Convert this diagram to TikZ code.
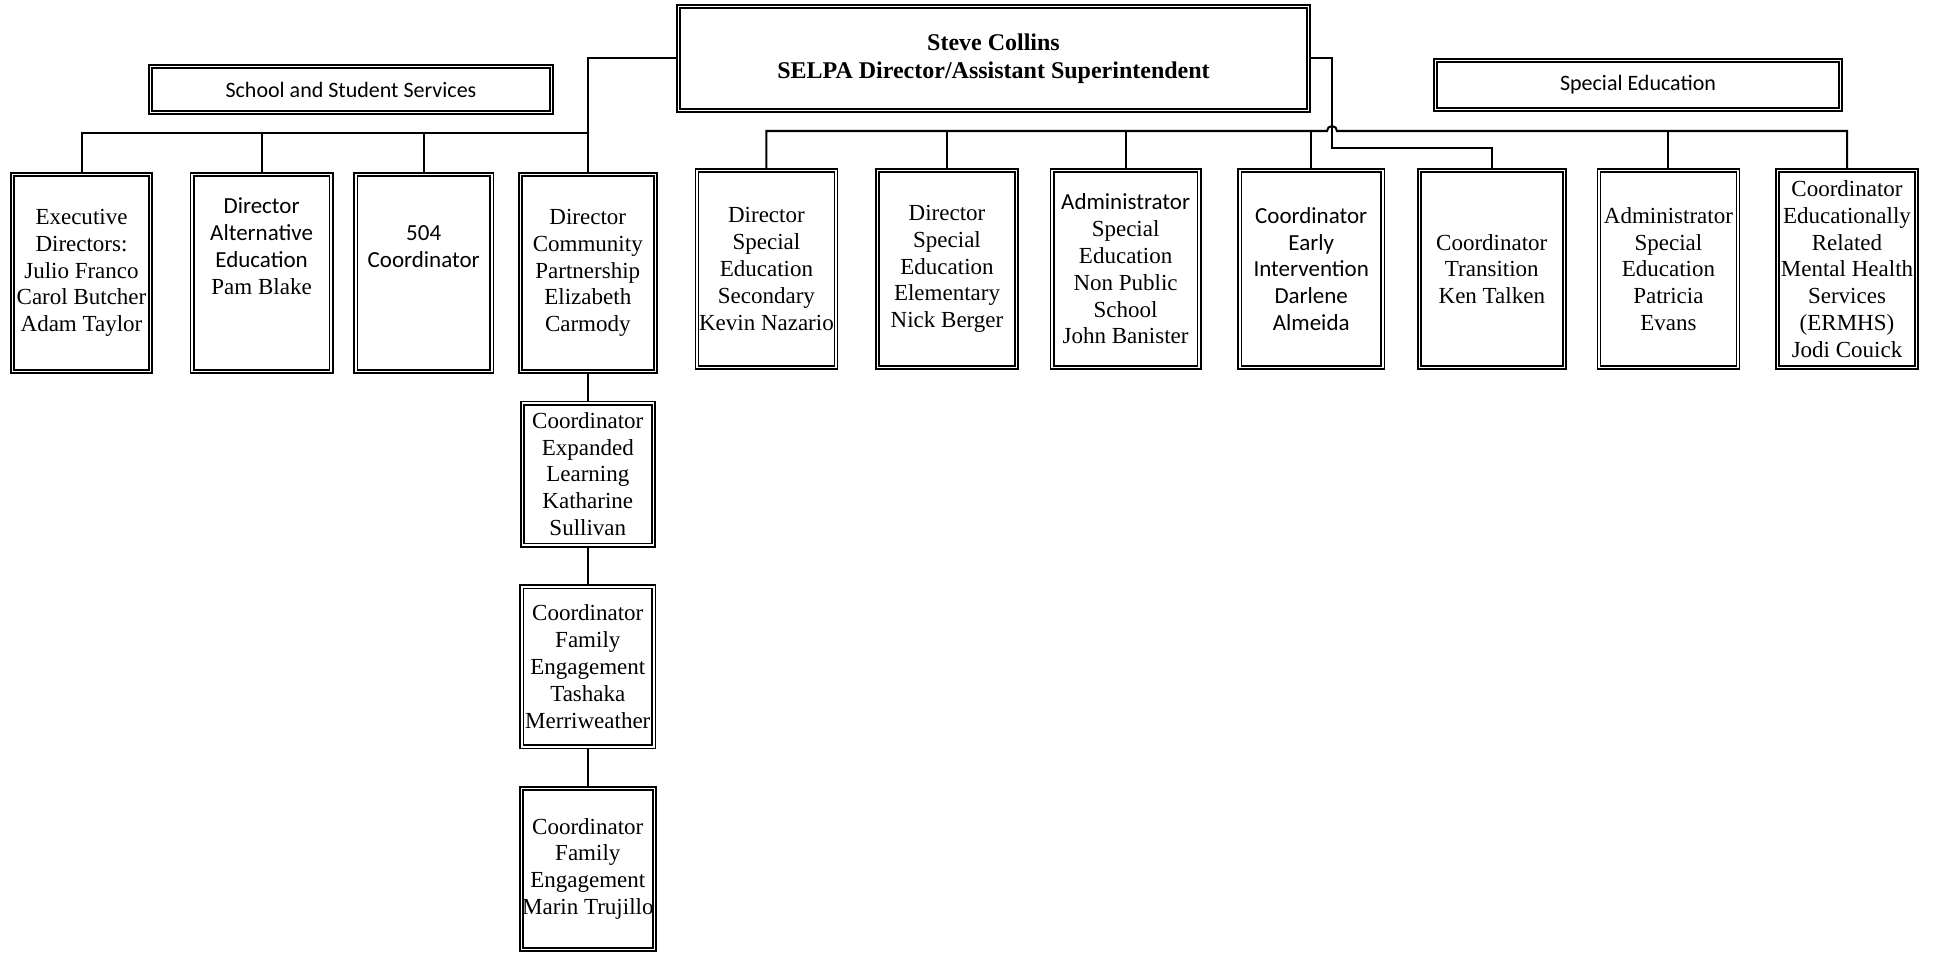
\documentclass[tikz,border=0pt]{standalone}
\usepackage{fontspec}
\setmainfont{Liberation Serif}
\newfontfamily\cb{Carlito}
\usetikzlibrary{positioning}

\begin{document}
\begin{tikzpicture}[x=1pt, y=-1pt,
  frame/.style = {draw, line width=1.6pt, double=white, double distance=1.6pt, inner sep=0pt, align=center},
  unit/.style = {frame, minimum height=197pt, font=\fontsize{23}{26.8}\selectfont},
  head/.style = {frame, font=\cb\fontsize{22}{26}\selectfont},
  wire/.style = {line width=2pt}]
\useasboundingbox[fill=white] (0,0) rectangle (1934,955);

% top
\node[frame, minimum width=630pt, minimum height=104pt, font=\bfseries\fontsize{24}{28}\selectfont] (steve) at (993.5,58.5) {Steve Collins\\SELPA Director/Assistant Superintendent};
\node[head, minimum width=401pt, minimum height=46pt] (sss) at (351,89.5) {School and Student Services};
\node[head, minimum width=405pt, minimum height=49pt] (sped) at (1638,85) {Special Education};

% school and student services
\node[unit, minimum width=138pt] (exec) at (81.5,273) {Executive\\Directors:\\Julio Franco\\Carol Butcher\\Adam Taylor};
\node[unit, minimum width=139pt] (alt) [right=40pt of exec] {{\cb Director}\\{\cb Alternative}\\{\cb Education}\\Pam Blake\\~\\~};
\node[unit, minimum width=136pt] (c504) [right=23pt of alt] {{\cb 504}\\{\cb Coordinator}\\~\\~};
\node[unit, minimum width=135pt] (comm) [right=27pt of c504] {Director\\Community\\Partnership\\Elizabeth\\Carmody};
\node[unit, minimum width=131pt, minimum height=142pt] (exp) [below=30pt of comm] {Coordinator\\Expanded\\Learning\\Katharine\\Sullivan};
\node[unit, minimum width=132pt, minimum height=160pt] (tash) [below=40pt of exp] {Coordinator\\Family\\Engagement\\Tashaka\\Merriweather};
\node[unit, minimum width=133pt, minimum height=161pt] (marin) [below=40pt of tash] {Coordinator\\Family\\Engagement\\Marin Trujillo};

% special education
\node[unit, minimum width=139pt] (sec) [right=40pt of comm, yshift=4pt] {Director\\Special\\Education\\Secondary\\Kevin Nazario};
\node[unit, minimum width=139pt] (elem) [right=40pt of sec] {Director\\Special\\Education\\Elementary\\Nick Berger};
\node[unit, minimum width=147pt] (nps) [right=34pt of elem] {{\cb Administrator}\\Special\\Education\\Non Public\\School\\John Banister};
\node[unit, minimum width=143pt] (early) [right=39pt of nps] {{\cb Coordinator}\\{\cb Early}\\{\cb Intervention}\\{\cb Darlene}\\{\cb Almeida}};
\node[unit, minimum width=145pt] (trans) [right=35pt of early] {Coordinator\\Transition\\Ken Talken};
\node[unit, minimum width=139pt] (pat) [right=33pt of trans] {Administrator\\Special\\Education\\Patricia\\Evans};
\node[unit, minimum width=139pt] (ermhs) [right=38pt of pat] {Coordinator\\Educationally\\Related\\Mental Health\\Services\\(ERMHS)\\Jodi Couick};

\coordinate (lbus) at (589,133);
\coordinate (hop) at (1327,131);
\coordinate (jog) at (1332,148);

\draw[wire] (steve.west) -| (comm.north);
\draw[wire] (exec.north) |- (lbus);
\draw[wire] (alt.north) -- (alt.north |- lbus);
\draw[wire] (c504.north) -- (c504.north |- lbus);
\draw[wire] (comm.south) -- (exp.north);
\draw[wire] (exp.south) -- (tash.north);
\draw[wire] (tash.south) -- (marin.north);

\draw[wire] (sec.north) |- (hop) arc[start angle=180, end angle=360, radius=5] -| (ermhs.north);
\draw[wire] (elem.north) -- (elem.north |- hop);
\draw[wire] (nps.north) -- (nps.north |- hop);
\draw[wire] (early.north) -- (early.north |- hop);
\draw[wire] (pat.north) -- (pat.north |- hop);
\draw[wire] (steve.east) -| (jog) -| (trans.north);
\end{tikzpicture}
\end{document}
